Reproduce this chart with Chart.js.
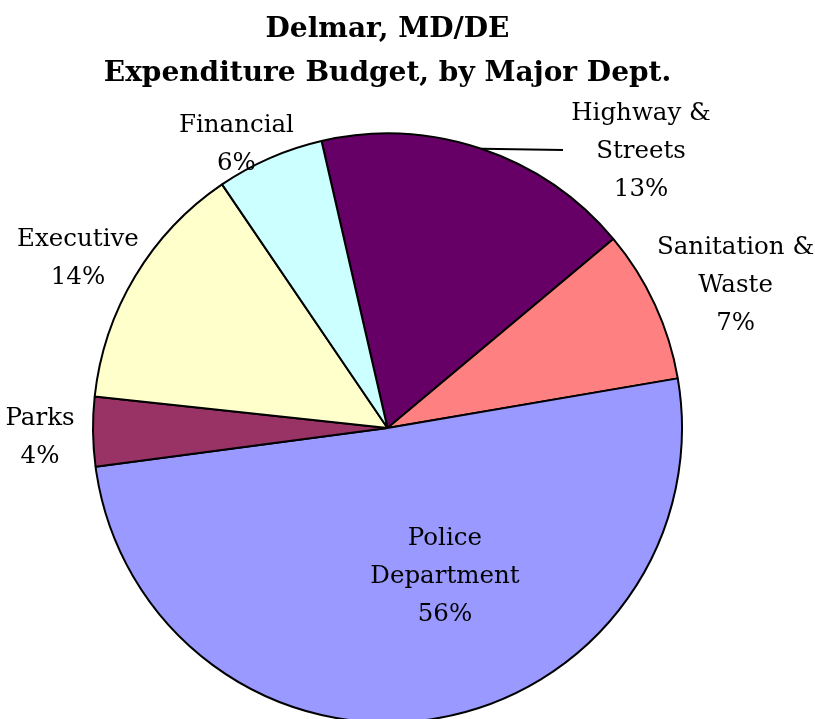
<!DOCTYPE html>
<html>
<head>
<meta charset="utf-8">
<script src="https://cdn.jsdelivr.net/npm/chart.js@4.4.0/dist/chart.umd.min.js"></script>
<style>
html, body { margin:0; padding:0; background:#fff; overflow:hidden; }
#wrap { width:815px; height:719px; }
</style>
</head>
<body>
<div id="wrap"><canvas id="budgetChart" width="815" height="719"></canvas></div>
<script>
// chart data
const titleLines = ['Delmar, MD/DE', 'Expenditure Budget, by Major Dept.'];
const depts = ['Highway & Streets', 'Sanitation & Waste', 'Police Department', 'Parks', 'Executive', 'Financial'];
const deptLines = [['Highway &', 'Streets'], ['Sanitation &', 'Waste'], ['Police', 'Department'], ['Parks'], ['Executive'], ['Financial']];
const pctLabels = ['13%', '7%', '56%', '4%', '14%', '6%'];
// slice sizes as drawn in the picture (they differ a bit from the printed percents)
const sliceValues = [17.5, 8.4, 50.6, 3.8, 13.8, 5.9];
const sliceColors = ['#660066', '#FF8080', '#9999FF', '#993366', '#FFFFCC', '#CCFFFF'];

const labelFont = '24.5px "DejaVu Serif"';

// draws the two/three line labels around the pie
const sliceLabels = {
    id: 'sliceLabels',
    afterDatasetsDraw(chart, args, opts) {
        const ctx = chart.ctx;
        const arcs = chart.getDatasetMeta(0).data;
        ctx.save();
        ctx.font = opts.font;
        ctx.fillStyle = '#000';
        ctx.textAlign = 'center';
        ctx.textBaseline = 'middle';
        arcs.forEach((arc, i) => {
            const r = arc.outerRadius;
            const cx = arc.x + opts.pos[i][0] * r;
            const cy = arc.y + opts.pos[i][1] * r;
            const lines = deptLines[i].concat(pctLabels[i]);
            const top = cy - (lines.length - 1) * opts.lineHeight / 2;
            lines.forEach((t, k) => ctx.fillText(t, cx, top + k * opts.lineHeight));
        });
        // leader line for highway label
        const a = arcs[opts.leader.index];
        const mid = (a.startAngle + a.endAngle) / 2;
        ctx.strokeStyle = '#000';
        ctx.lineWidth = 2;
        ctx.beginPath();
        ctx.moveTo(a.x + Math.cos(mid) * a.outerRadius, a.y + Math.sin(mid) * a.outerRadius);
        ctx.lineTo(a.x + opts.leader.end[0] * a.outerRadius, a.y + opts.leader.end[1] * a.outerRadius);
        ctx.stroke();
        ctx.restore();
    }
};

const ctx = document.getElementById('budgetChart').getContext('2d');
const budgetChart = new Chart(ctx, {
    type: 'pie',
    data: {
        labels: depts,
        datasets: [{
            data: sliceValues,
            backgroundColor: sliceColors,
            borderColor: '#000',
            borderWidth: 2,
            radius: 294.5,
            clip: false
        }]
    },
    options: {
        responsive: false,
        devicePixelRatio: 1,
        animation: false,
        rotation: -12.94,
        layout: {
            padding: { left: 0, right: 40, top: 0, bottom: 0 }
        },
        plugins: {
            legend: { display: false },
            tooltip: { enabled: false },
            title: {
                display: true,
                text: titleLines,
                color: '#000',
                font: { family: '"DejaVu Serif"', size: 28, weight: 'bold', lineHeight: '44px' },
                padding: { top: 8, bottom: 41 }
            },
            sliceLabels: {
                font: labelFont,
                lineHeight: 38,
                pos: [[0.861, -0.937], [1.182, -0.485], [0.195, 0.506], [-1.180, 0.032], [-1.051, -0.574], [-0.513, -0.962]],
                leader: { index: 0, end: [0.596, -0.944] }
            }
        }
    },
    plugins: [sliceLabels]
});
</script>
</body>
</html>
